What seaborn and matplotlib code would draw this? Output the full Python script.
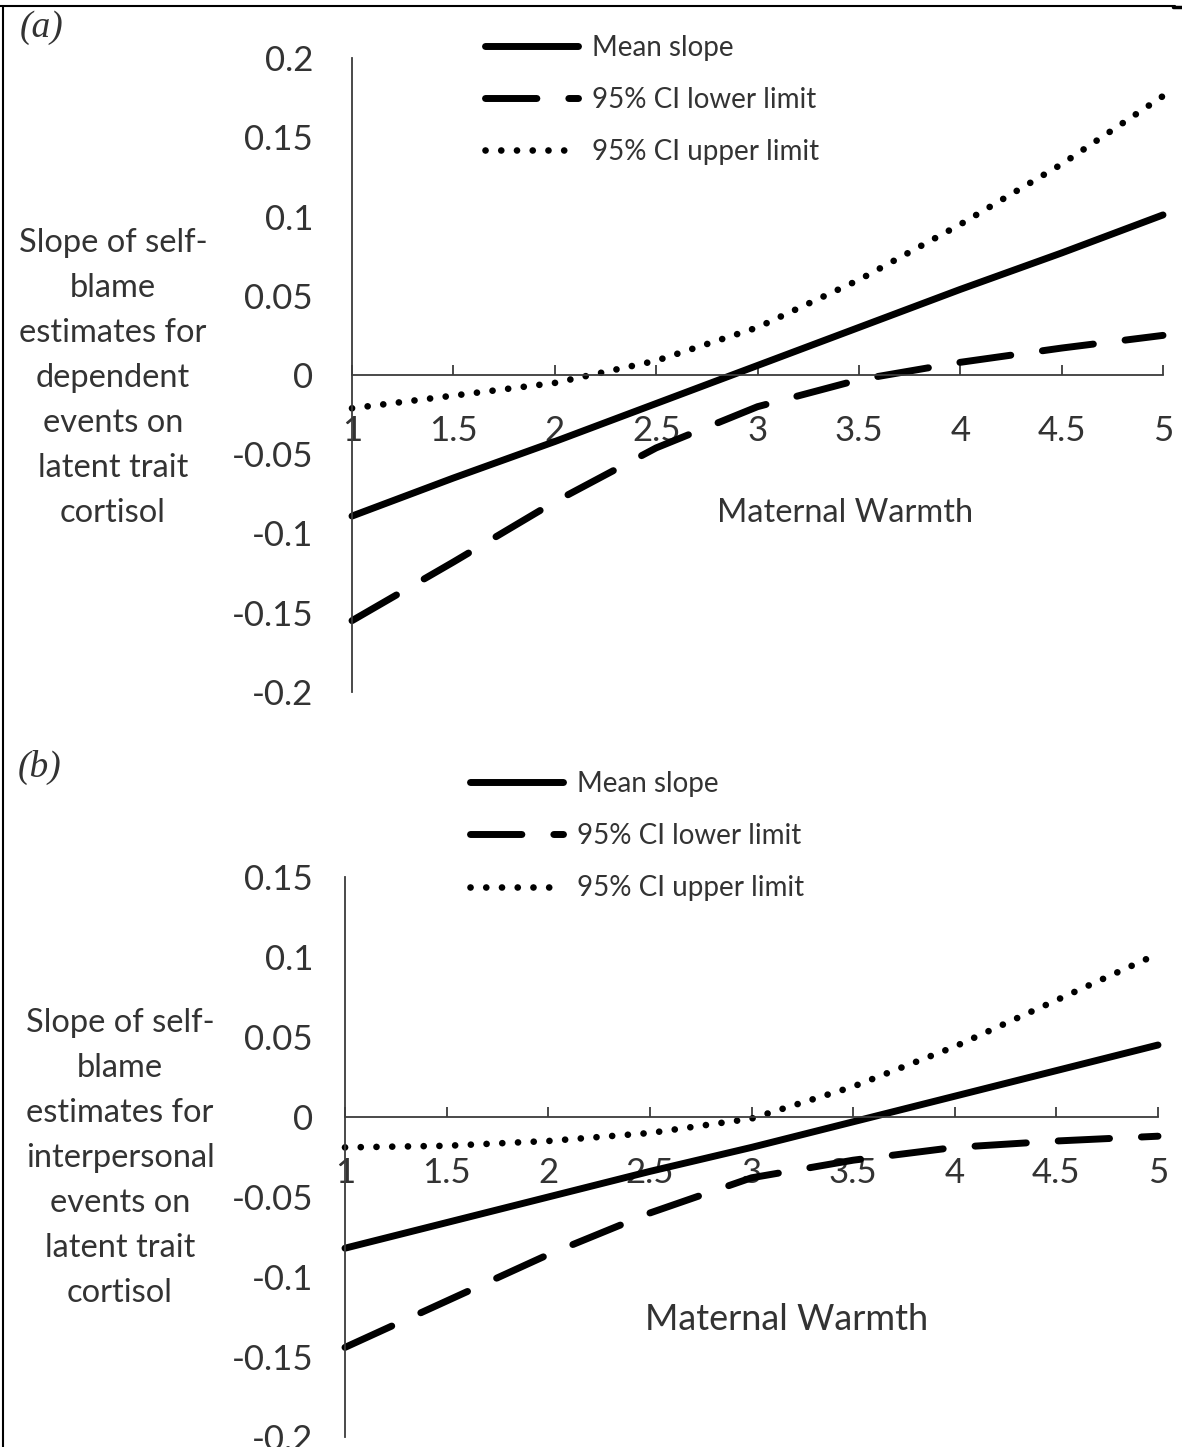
import numpy as np
import pandas as pd
import matplotlib.pyplot as plt
from matplotlib.lines import Line2D
import seaborn as sns

sns.set_theme(style="white")
plt.rcParams['font.family'] = ['Lato', 'DejaVu Sans']

# maternal warmth values where the curves were read
warmth = [1, 1.5, 2, 2.5, 3, 3.5, 4, 4.5, 5]

# (a) dependent events
mean_a = [-0.089, -0.065, -0.042, -0.018, 0.006, 0.030, 0.054, 0.077, 0.101]
lower_a = [-0.155, -0.118, -0.080, -0.046, -0.020, -0.003, 0.008, 0.017, 0.025]
upper_a = [-0.021, -0.013, -0.005, 0.009, 0.030, 0.060, 0.095, 0.133, 0.176]

# (b) interpersonal events
mean_b = [-0.082, -0.066, -0.050, -0.034, -0.019, -0.003, 0.013, 0.029, 0.045]
lower_b = [-0.144, -0.115, -0.086, -0.060, -0.038, -0.027, -0.019, -0.015, -0.012]
upper_b = [-0.019, -0.018, -0.015, -0.010, -0.001, 0.019, 0.044, 0.073, 0.102]

series_labels = ["Mean slope", "95% CI lower limit", "95% CI upper limit"]
xticks = [1, 1.5, 2, 2.5, 3, 3.5, 4, 4.5, 5]
xtick_labels = ["1", "1.5", "2", "2.5", "3", "3.5", "4", "4.5", "5"]
yticks_a = [-0.2, -0.15, -0.1, -0.05, 0, 0.05, 0.1, 0.15, 0.2]
ytick_labels_a = ["-0.2", "-0.15", "-0.1", "-0.05", "0", "0.05", "0.1", "0.15", "0.2"]
yticks_b = [-0.2, -0.15, -0.1, -0.05, 0, 0.05, 0.1, 0.15]
ytick_labels_b = ["-0.2", "-0.15", "-0.1", "-0.05", "0", "0.05", "0.1", "0.15"]
xlabel = "Maternal Warmth"
ylabel_a = "Slope of self-\nblame\nestimates for\ndependent\nevents on\nlatent trait\ncortisol"
ylabel_b = "Slope of self-\nblame\nestimates for\ninterpersonal\nevents on\nlatent trait\ncortisol"

W, H = 1182, 1447
TXT = "#333333"
AX = "#3c3c3c"

fig = plt.figure(figsize=(W / 100, H / 100), dpi=100)


def px(x, y):
    return x / W, 1 - y / H


def panel(ax, mean, lower, upper, yticks, ylabels, ypad):
    df = pd.DataFrame({"w": warmth, "mean": mean, "lower": lower, "upper": upper})
    sns.lineplot(data=df, x="w", y="mean", ax=ax, color="black", lw=5,
                 solid_capstyle="round", label=series_labels[0], clip_on=False)
    sns.lineplot(data=df, x="w", y="lower", ax=ax, color="black", lw=5,
                 dash_capstyle="round", label=series_labels[1], clip_on=False)
    ax.lines[-1].set_dashes((7.4, 4.6))
    sns.lineplot(data=df, x="w", y="upper", ax=ax, color="black", lw=4.8,
                 dash_capstyle="round", label=series_labels[2], clip_on=False)
    ax.lines[-1].set_dashes((0.01, 2.35))
    ax.set_xlim(1, 5)
    ax.set_xticks(xticks, xtick_labels)
    ax.set_yticks(yticks, ylabels)
    ax.set_xlabel("")
    ax.set_ylabel("")
    for s in ["top", "right"]:
        ax.spines[s].set_visible(False)
    ax.spines["bottom"].set_position(("data", 0))
    for s in ["left", "bottom"]:
        ax.spines[s].set_color(AX)
        ax.spines[s].set_linewidth(1.3)
    ax.tick_params(axis="x", direction="in", length=7, width=1.3, color=AX,
                   pad=29, labelsize=25, labelcolor=TXT, bottom=True)
    ax.tick_params(axis="y", length=0, pad=ypad, labelsize=25, labelcolor=TXT)
    ax.patch.set_alpha(0)


def add_legend(ax, x, y):
    ax.legend(loc="upper left", bbox_to_anchor=px(x, y), bbox_transform=fig.transFigure,
              frameon=False, fontsize=20, handlelength=3.35, handletextpad=0.5,
              labelspacing=0.94, borderpad=0, borderaxespad=0, labelcolor=TXT)


ax_a = fig.add_axes([352 / W, 1 - 692 / H, 811 / W, 634 / H])
ax_a.set_ylim(-0.2, 0.2)
panel(ax_a, mean_a, lower_a, upper_a, yticks_a, ytick_labels_a, 28)
add_legend(ax_a, 485, 35)

ax_b = fig.add_axes([345 / W, 1 - 1437 / H, 813 / W, 560 / H])
ax_b.set_ylim(-0.2, 0.15)
panel(ax_b, mean_b, lower_b, upper_b, yticks_b, ytick_labels_b, 23)
add_legend(ax_b, 470, 771)

fig.text(*px(113, 378), ylabel_a, ha="center", va="center", fontsize=23.5,
         linespacing=1.62, color=TXT)
fig.text(*px(120, 1158), ylabel_b, ha="center", va="center", fontsize=23.5,
         linespacing=1.62, color=TXT)
fig.text(*px(845, 513), xlabel, ha="center", va="center", fontsize=23.5, color=TXT)
fig.text(*px(787, 1320), xlabel, ha="center", va="center", fontsize=26, color=TXT)

fig.text(*px(20, 28), "(a)", ha="left", va="center", fontsize=27, style="italic",
         family="Liberation Serif", color=TXT)
fig.text(*px(18, 767), "(b)", ha="left", va="center", fontsize=27, style="italic",
         family="Liberation Serif", color=TXT)

# page border
fig.add_artist(Line2D([3 / W, 3 / W], [0, 1 - 6 / H], color="black", lw=1.5,
                      transform=fig.transFigure))
fig.add_artist(Line2D([0, 1175 / W], [1 - 6 / H, 1 - 6 / H], color="black", lw=1.5,
                      transform=fig.transFigure))
fig.add_artist(Line2D([1173 / W, 1], [1 - 7 / H, 1 - 7 / H], color="black", lw=2.5,
                      transform=fig.transFigure))

fig.savefig("out.png", dpi=100)
